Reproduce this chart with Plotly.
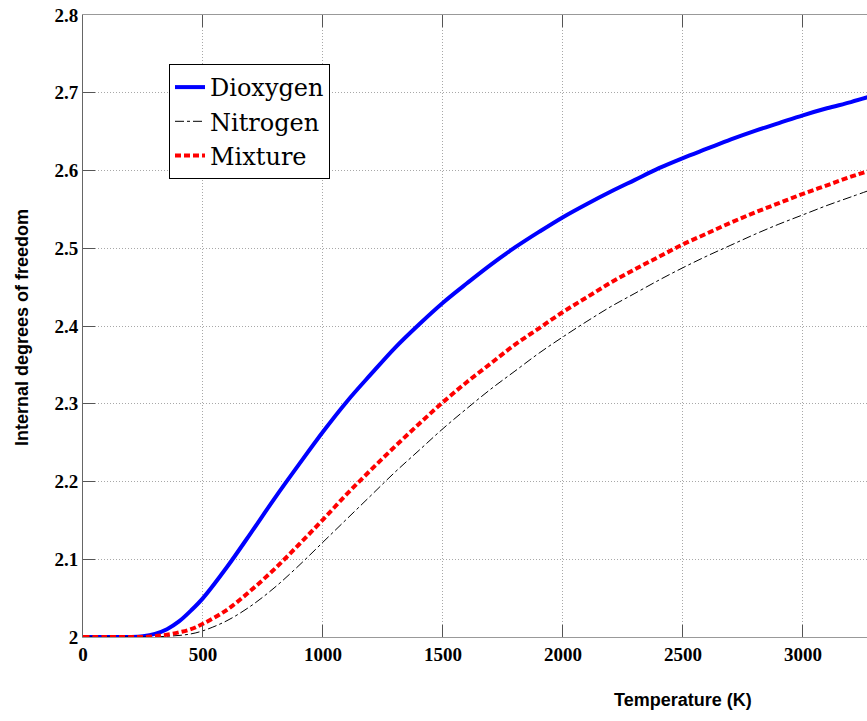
import plotly.graph_objects as go

temperature = [0, 100, 200, 250, 300, 350, 400, 450, 500, 600, 700, 800, 900, 1000,
               1100, 1200, 1300, 1400, 1500, 1600, 1700, 1800, 1900, 2000, 2100, 2200,
               2300, 2400, 2500, 2600, 2700, 2800, 2900, 3000, 3100, 3200, 3300]

dioxygen = [2.000, 2.000, 2.000, 2.001, 2.004, 2.010, 2.020, 2.034, 2.050, 2.090, 2.134,
            2.179, 2.222, 2.264, 2.303, 2.338, 2.372, 2.402, 2.430, 2.455, 2.479, 2.501,
            2.521, 2.540, 2.557, 2.573, 2.588, 2.603, 2.616, 2.628, 2.640, 2.651, 2.661,
            2.671, 2.680, 2.688, 2.697]

nitrogen = [2.000, 2.000, 2.000, 2.000, 2.000, 2.001, 2.002, 2.004, 2.008, 2.021, 2.040,
            2.064, 2.092, 2.122, 2.152, 2.182, 2.212, 2.240, 2.268, 2.294, 2.319, 2.342,
            2.365, 2.386, 2.406, 2.425, 2.442, 2.459, 2.475, 2.490, 2.504, 2.518, 2.531,
            2.543, 2.555, 2.566, 2.577]

mixture = [2.000, 2.000, 2.000, 2.000, 2.001, 2.003, 2.006, 2.010, 2.017, 2.035, 2.060,
           2.088, 2.119, 2.151, 2.184, 2.215, 2.245, 2.274, 2.302, 2.328, 2.352, 2.376,
           2.397, 2.418, 2.437, 2.456, 2.473, 2.489, 2.505, 2.519, 2.533, 2.546, 2.558,
           2.570, 2.581, 2.592, 2.602]

x_ticks = [0, 500, 1000, 1500, 2000, 2500, 3000]
y_ticks = [2.0, 2.1, 2.2, 2.3, 2.4, 2.5, 2.6, 2.7, 2.8]
y_tick_labels = ["2", "2.1", "2.2", "2.3", "2.4", "2.5", "2.6", "2.7", "2.8"]

fig = go.Figure()
fig.add_trace(go.Scatter(x=temperature, y=dioxygen, mode="lines", name="Dioxygen",
                         line=dict(color="#0000ff", width=4, shape="spline")))
fig.add_trace(go.Scatter(x=temperature, y=nitrogen, mode="lines", name="Nitrogen",
                         line=dict(color="black", width=1, dash="dashdot", shape="spline")))
fig.add_trace(go.Scatter(x=temperature, y=mixture, mode="lines", name="Mixture",
                         line=dict(color="#ff0000", width=4, dash="6px,3px", shape="spline")))

W, H = 867, 721
L, T, B = 83, 15, 84
PW, PH = W - L, H - T - B


def px_x(px):
    return (px - L) / PW


def px_y(py):
    return (H - B - py) / PH


fig.update_layout(
    width=W, height=H,
    margin=dict(l=L, r=0, t=T, b=B, autoexpand=False),
    paper_bgcolor="white", plot_bgcolor="white",
    showlegend=True,
    legend=dict(x=px_x(169), y=px_y(64),
                xanchor="left", yanchor="top",
                bgcolor="white", bordercolor="black", borderwidth=1,
                font=dict(family="DejaVu Serif", size=24, color="black"),
                itemwidth=30, tracegroupgap=0),
    xaxis=dict(range=[0, 3267], tickvals=x_ticks,
               ticktext=["<b>%d</b>" % v for v in x_ticks],
               showline=True, linecolor="#999999", linewidth=1, mirror="ticks",
               ticks="inside", ticklen=12, tickcolor="#555555",
               showgrid=True, gridcolor="#a8a8a8", griddash="1px,2px", gridwidth=1,
               zeroline=False, automargin=False,
               tickfont=dict(family="Liberation Serif", size=19, color="black")),
    yaxis=dict(range=[2.0, 2.8], tickvals=y_ticks,
               ticktext=["<b>%s</b>" % t for t in y_tick_labels],
               showline=True, linecolor="#666666", linewidth=1, mirror=False,
               ticks="inside", ticklen=12, tickcolor="#555555",
               showgrid=True, gridcolor="#a8a8a8", griddash="1px,2px", gridwidth=1,
               zeroline=False, automargin=False,
               tickfont=dict(family="Liberation Serif", size=19, color="black")),
    annotations=[
        dict(text="<b>Temperature (K)</b>", xref="paper", yref="paper",
             x=px_x(683), y=px_y(700),
             xanchor="center", yanchor="middle", showarrow=False,
             font=dict(family="Liberation Sans", size=18, color="black")),
        dict(text="<b>Internal degrees of freedom</b>", xref="paper", yref="paper",
             x=px_x(22), y=px_y(328), textangle=-90,
             xanchor="center", yanchor="middle", showarrow=False,
             font=dict(family="Liberation Sans", size=18, color="black")),
    ],
)

fig.write_html("out.html",
               config={"displayModeBar": False},
               post_script="document.body.style.margin='0';document.body.style.overflow='hidden';")
